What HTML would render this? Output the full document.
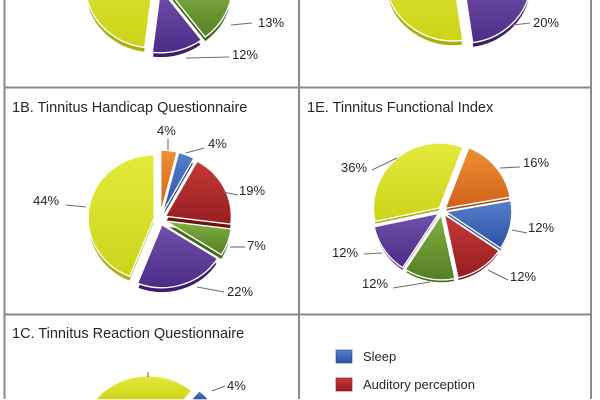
<!DOCTYPE html>
<html>
<head>
<meta charset="utf-8">
<style>
html,body{margin:0;padding:0;background:#fff;width:600px;height:400px;overflow:hidden;}
svg{display:block;overflow:hidden;}
text{font-family:"Liberation Sans",Arial,sans-serif;fill:#2a2627;}
.t{font-size:14.5px;}
.l{font-size:13px;}
.ld{stroke:#6e6e6e;stroke-width:1.1;fill:none;}
.s{stroke:#fff;stroke-width:1.4;stroke-linejoin:round;}
</style>
</head>
<body>
<svg width="600" height="400" viewBox="0 0 600 400" xmlns="http://www.w3.org/2000/svg">
<defs>
<linearGradient id="gy" x1="0" y1="0" x2="0" y2="1"><stop offset="0" stop-color="#e4ea3c"/><stop offset="1" stop-color="#ccd41a"/></linearGradient>
<linearGradient id="gp" x1="0" y1="0" x2="0" y2="1"><stop offset="0" stop-color="#7150ab"/><stop offset="1" stop-color="#4c2c86"/></linearGradient>
<linearGradient id="gg" x1="0" y1="0" x2="0" y2="1"><stop offset="0" stop-color="#80b040"/><stop offset="1" stop-color="#557f26"/></linearGradient>
<linearGradient id="gr" x1="0" y1="0" x2="0" y2="1"><stop offset="0" stop-color="#c53a38"/><stop offset="1" stop-color="#971d21"/></linearGradient>
<linearGradient id="gb" x1="0" y1="0" x2="0" y2="1"><stop offset="0" stop-color="#5480cc"/><stop offset="1" stop-color="#2d51a2"/></linearGradient>
<linearGradient id="go" x1="0" y1="0" x2="0" y2="1"><stop offset="0" stop-color="#f08f32"/><stop offset="1" stop-color="#d0621b"/></linearGradient>
</defs>
<rect width="600" height="400" fill="#fff"/>

<!-- ===== 1A (top-left, cut) ===== -->
<g transform="translate(0,5)" class="s">
<path fill="#3f6a1b" d="M164.22,-14.05 L231.85,-7.36 A68,64 0 0 1 205.14,37.06 Z"/>
<path fill="#3a2068" d="M160.55,-11.2 L201.47,39.91 A68,64 0 0 1 152.26,52.32 Z"/>
<path fill="#a9af10" d="M153.07,-16.06 L144.78,47.46 A68,64 0 0 1 124.33,-74.06 Z"/>
</g>
<g class="s">
<path fill="url(#gg)" d="M164.22,-14.05 L231.85,-7.36 A68,64 0 0 1 205.14,37.06 Z"/>
<path fill="url(#gp)" d="M160.55,-11.2 L201.47,39.91 A68,64 0 0 1 152.26,52.32 Z"/>
<path fill="url(#gy)" d="M153.07,-16.06 L144.78,47.46 A68,64 0 0 1 124.33,-74.06 Z"/>
</g>
<path class="ld" d="M231,25 L252,23"/>
<text class="l" x="258" y="27">13%</text>
<path class="ld" d="M186,58 L229,57"/>
<text class="l" x="232" y="59">12%</text>

<!-- ===== 1D (top-right, cut) ===== -->
<g transform="translate(0,5)" class="s">
<path fill="#3a2068" d="M463.17,-20.68 L530.14,-9.57 A68,64 0 0 1 472.64,42.70 Z"/>
<path fill="#a9af10" d="M453.33,-23.05 L462.80,40.33 A68,64 0 0 1 419.33,-78.47 Z"/>
</g>
<g class="s">
<path fill="url(#gp)" d="M463.17,-20.68 L530.14,-9.57 A68,64 0 0 1 472.64,42.70 Z"/>
<path fill="url(#gy)" d="M453.33,-23.05 L462.80,40.33 A68,64 0 0 1 419.33,-78.47 Z"/>
</g>
<path class="ld" d="M513,25 L530,23"/>
<text class="l" x="533" y="27">20%</text>

<!-- ===== 1B ===== -->
<text class="t" x="12" y="112">1B. Tinnitus Handicap Questionnaire</text>
<g transform="translate(0,5)" class="s">
<path fill="#a54b12" d="M160.75,213.05 L160.75,150.05 A66,63 0 0 1 177.16,152.03 Z"/>
<path fill="#223f80" d="M162.21,213.42 L178.62,152.40 A66,63 0 0 1 194.01,158.21 Z"/>
<path fill="#6f1216" d="M165.35,216.28 L197.15,161.07 A66,63 0 0 1 230.83,224.17 Z"/>
<path fill="#3f6a1b" d="M165.65,221.03 L231.13,228.92 A66,63 0 0 1 221.37,254.79 Z"/>
<path fill="#3a2068" d="M161.85,224.71 L217.57,258.47 A66,63 0 0 1 137.56,283.29 Z"/>
<path fill="#a9af10" d="M154.11,217.88 L129.82,276.46 A66,63 0 0 1 154.11,154.88 Z"/>
</g>
<g class="s">
<path fill="url(#go)" d="M160.75,213.05 L160.75,150.05 A66,63 0 0 1 177.16,152.03 Z"/>
<path fill="url(#gb)" d="M162.21,213.42 L178.62,152.40 A66,63 0 0 1 194.01,158.21 Z"/>
<path fill="url(#gr)" d="M165.35,216.28 L197.15,161.07 A66,63 0 0 1 230.83,224.17 Z"/>
<path fill="url(#gg)" d="M165.65,221.03 L231.13,228.92 A66,63 0 0 1 221.37,254.79 Z"/>
<path fill="url(#gp)" d="M161.85,224.71 L217.57,258.47 A66,63 0 0 1 137.56,283.29 Z"/>
<path fill="url(#gy)" d="M154.11,217.88 L129.82,276.46 A66,63 0 0 1 154.11,154.88 Z"/>
</g>
<path class="ld" d="M168,139 L168,150"/>
<text class="l" x="157" y="135">4%</text>
<path class="ld" d="M186,153 L204,148"/>
<text class="l" x="208" y="148">4%</text>
<path class="ld" d="M223,192 L238,195"/>
<text class="l" x="239" y="195">19%</text>
<path class="ld" d="M230,247 L245,247"/>
<text class="l" x="247" y="250">7%</text>
<path class="ld" d="M197,287 L224,292"/>
<text class="l" x="227" y="296">22%</text>
<path class="ld" d="M66,205 L86,207"/>
<text class="l" x="33" y="205">44%</text>

<!-- ===== 1E ===== -->
<text class="t" x="307" y="112">1E. Tinnitus Functional Index</text>
<g transform="translate(0,3)" class="s">
<path fill="#a54b12" d="M445.09,208.46 L468.74,147.78 A66,65 0 0 1 510.09,197.18 Z"/>
<path fill="#223f80" d="M445.91,211.83 L510.91,200.55 A66,65 0 0 1 500.62,248.18 Z"/>
<path fill="#6f1216" d="M444.24,214.32 L498.95,250.67 A66,65 0 0 1 457.96,277.90 Z"/>
<path fill="#3f6a1b" d="M441.27,214.93 L454.99,278.51 A66,65 0 0 1 405.33,269.45 Z"/>
<path fill="#3a2068" d="M438.70,213.27 L402.76,267.79 A66,65 0 0 1 374.15,226.78 Z"/>
<path fill="#a9af10" d="M439.40,207.96 L374.85,221.47 A66,65 0 0 1 463.05,147.28 Z"/>
</g>
<g class="s">
<path fill="url(#go)" d="M445.09,208.46 L468.74,147.78 A66,65 0 0 1 510.09,197.18 Z"/>
<path fill="url(#gb)" d="M445.91,211.83 L510.91,200.55 A66,65 0 0 1 500.62,248.18 Z"/>
<path fill="url(#gr)" d="M444.24,214.32 L498.95,250.67 A66,65 0 0 1 457.96,277.90 Z"/>
<path fill="url(#gg)" d="M441.27,214.93 L454.99,278.51 A66,65 0 0 1 405.33,269.45 Z"/>
<path fill="url(#gp)" d="M438.70,213.27 L402.76,267.79 A66,65 0 0 1 374.15,226.78 Z"/>
<path fill="url(#gy)" d="M439.40,207.96 L374.85,221.47 A66,65 0 0 1 463.05,147.28 Z"/>
</g>
<path class="ld" d="M372,170 L397,158"/>
<text class="l" x="341" y="172">36%</text>
<path class="ld" d="M500,168 L520,167"/>
<text class="l" x="523" y="167">16%</text>
<path class="ld" d="M512,230 L527,233"/>
<text class="l" x="528" y="232">12%</text>
<path class="ld" d="M488,270 L508,280"/>
<text class="l" x="510" y="281">12%</text>
<path class="ld" d="M393,288 L430,282"/>
<text class="l" x="362" y="288">12%</text>
<path class="ld" d="M364,254 L382,253"/>
<text class="l" x="332" y="257">12%</text>

<!-- ===== 1C ===== -->
<text class="t" x="12" y="338">1C. Tinnitus Reaction Questionnaire</text>
<g class="s">
<path fill="url(#gb)" d="M190.99,400 L199.38,390.58 A68,64 0 0 1 209.09,400 Z"/>
<path fill="url(#gy)" d="M94.91,400 A68,64 0 0 1 191.94,390.70 L183.64,400 Z"/>
</g>
<path class="ld" d="M148,372 L148,377"/>
<path class="ld" d="M212,391 L225,386"/>
<text class="l" x="227" y="390">4%</text>

<!-- ===== Legend ===== -->
<rect x="336" y="350" width="16" height="13" fill="url(#gb)" stroke="#2a4a90" stroke-width="0.6"/>
<text class="l" x="363" y="361">Sleep</text>
<rect x="336" y="378" width="16" height="13" fill="url(#gr)" stroke="#801a1d" stroke-width="0.6"/>
<text class="l" x="363" y="389">Auditory perception</text>

<!-- ===== Frame lines ===== -->
<g stroke="#8a8a8a" stroke-width="2" fill="none">
<line x1="4.5" y1="0" x2="4.5" y2="399"/>
<line x1="299" y1="0" x2="299" y2="399"/>
<line x1="591" y1="0" x2="591" y2="399"/>
<line x1="4" y1="87.5" x2="592" y2="87.5"/>
<line x1="4" y1="314.5" x2="592" y2="314.5"/>
</g>
</svg>
</body>
</html>
